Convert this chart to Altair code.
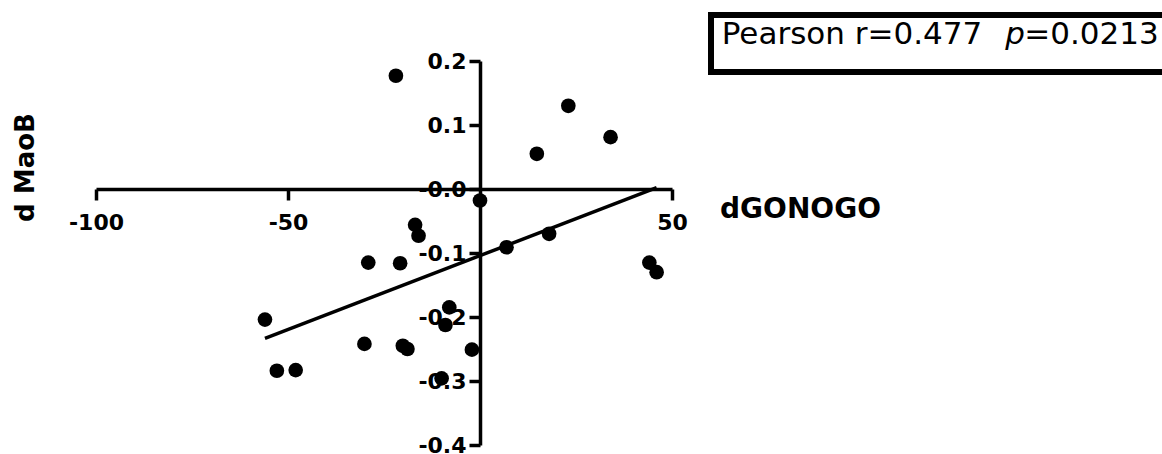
import altair as alt
import pandas as pd

# Change in GO/NOGO score vs change in MaoB, one point per subject
d_gonogo = [-21.9, 0.0, -16.9, -16.0, 23.0, 14.8, 34.0, 18.0, 6.9, 44.1, 46.0,
            -8.0, -9.0, -2.1, -10.0, -56.0, -52.9, -48.0, -29.1, -20.8, -30.1,
            -20.1, -18.9]
d_maob = [0.177, -0.018, -0.056, -0.073, 0.130, 0.055, 0.081, -0.070, -0.091,
          -0.115, -0.130, -0.185, -0.2125, -0.251, -0.296, -0.204, -0.284,
          -0.283, -0.115, -0.116, -0.242, -0.245, -0.250]

x_ticks = [-100, -50, 50]
y_ticks = [-0.4, -0.3, -0.2, -0.1, 0.0, 0.1, 0.2]

df = pd.DataFrame({"dGONOGO": d_gonogo, "dMaoB": d_maob})

FONT = "DejaVu Sans"
W, H = 576, 384

axis_style = dict(
    grid=False,
    domainColor="black",
    domainWidth=3.5,
    tickColor="black",
    tickWidth=3.5,
    tickSize=11,
    labelFont=FONT,
    labelFontSize=22,
    labelFontWeight="bold",
    labelColor="black",
    labelFlush=False,
    labelOverlap=False,
    labelBound=False,
    titleFont=FONT,
    titleFontWeight="bold",
    titleColor="black",
    titleAlign="center",
    titleBaseline="alphabetic",
)

# axes cross at the origin: pull each one into the plot with a negative offset
x_axis = alt.Axis(
    values=x_ticks,
    offset=-256,
    labelPadding=12,
    labelExpr="(datum.value < 0 ? '-' : '') + format(abs(datum.value), 'd')",
    title="dGONOGO",
    titleFontSize=28,
    titleX=704,
    titleY=28,
    titleAngle=0,
    **axis_style,
)
y_axis = alt.Axis(
    values=y_ticks,
    offset=-384,
    labelPadding=3,
    labelExpr="datum.value == 0 ? '-0.0' : (datum.value < 0 ? '-' : '') + format(abs(datum.value), '.1f')",
    title="d MaoB",
    titleFontSize=26,
    titleX=-447,
    titleY=106,
    titleAngle=270,
    **axis_style,
)

x_enc = alt.X("dGONOGO:Q", scale=alt.Scale(domain=[-100, 50], nice=False, zero=False), axis=x_axis)
y_enc = alt.Y("dMaoB:Q", scale=alt.Scale(domain=[-0.4, 0.2], nice=False, zero=False), axis=y_axis)

base = alt.Chart(df)

points = base.mark_circle(size=215, color="black", opacity=1).encode(x=x_enc, y=y_enc)

fit = (
    base.transform_regression("dGONOGO", "dMaoB")
    .mark_line(color="black", strokeWidth=3.5)
    .encode(x=x_enc, y=y_enc)
)

# statistics box in the top-right corner
stat_src = alt.Chart(pd.DataFrame({"k": [0]}))
box = stat_src.mark_rect(fill="white", stroke="black", strokeWidth=6).encode(
    x=alt.value(615), x2=alt.value(1080), y=alt.value(-46), y2=alt.value(11)
)
txt_kw = dict(font=FONT, fontSize=31, color="black", baseline="alphabetic", align="center")
t1 = stat_src.mark_text(text="Pearson r=0.477", **txt_kw).encode(
    x=alt.value(756), y=alt.value(-17.5)
)
t2 = stat_src.mark_text(text="p", fontStyle="italic", **txt_kw).encode(
    x=alt.value(919), y=alt.value(-17.5)
)
t3 = stat_src.mark_text(text="=0.0213", **txt_kw).encode(
    x=alt.value(995.5), y=alt.value(-17.5)
)

chart = (
    alt.layer(box, t1, t2, t3, fit, points)
    .properties(
        width=W,
        height=H,
        padding={"left": 96, "top": 61, "right": 1162 - 96 - W, "bottom": 454 - 61 - H},
        autosize=alt.AutoSizeParams(type="none"),
        background="white",
    )
    .configure_view(stroke=None)
)

chart.save("out.html", embed_options={"renderer": "svg", "actions": False})
